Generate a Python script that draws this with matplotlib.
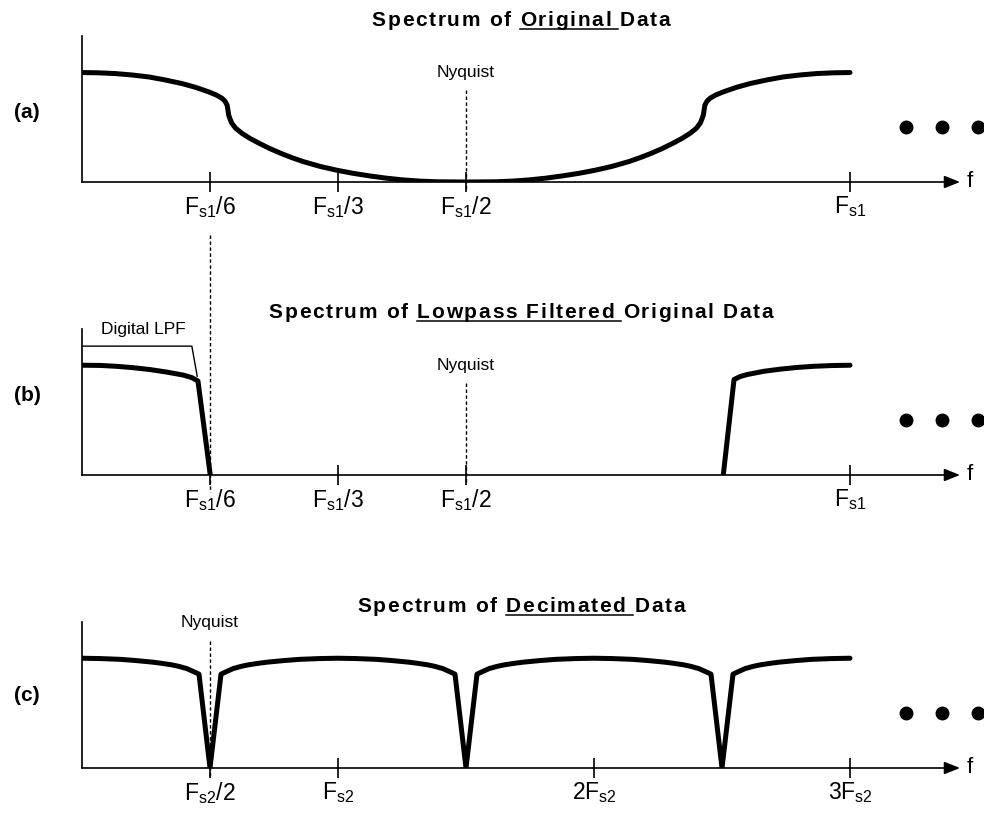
import numpy as np
import matplotlib
matplotlib.use('Agg')
import matplotlib.pyplot as plt
from matplotlib import rc
from matplotlib.lines import Line2D

rc('font', **{'family': ['Liberation Sans', 'DejaVu Sans'], 'size': 12})
rc('mathtext', **{'default': 'regular'})

W, H = 984, 813

# (a) spectrum of original data, f in units of Fs1
a_f = [0.0, 0.020, 0.043, 0.065, 0.087, 0.108, 0.130, 0.148, 0.165, 0.175, 0.182, 0.186,
       0.189, 0.190, 0.191, 0.193, 0.195, 0.200, 0.208, 0.218, 0.230, 0.245, 0.260, 0.274,
       0.288, 0.310, 0.332, 0.353, 0.375, 0.396, 0.418, 0.440, 0.462, 0.500,
       0.538, 0.560, 0.582, 0.604, 0.625, 0.647, 0.668, 0.690, 0.712, 0.726, 0.740, 0.755,
       0.770, 0.782, 0.792, 0.800, 0.805, 0.807, 0.809, 0.810, 0.811, 0.814, 0.818, 0.825,
       0.835, 0.852, 0.870, 0.892, 0.913, 0.935, 0.957, 0.980, 1.0]
a_amp = [0.997, 0.995, 0.988, 0.975, 0.957, 0.930, 0.897, 0.862, 0.821, 0.792, 0.764, 0.738,
         0.700, 0.655, 0.609, 0.570, 0.536, 0.490, 0.445, 0.400, 0.355, 0.303, 0.258, 0.220,
         0.186, 0.142, 0.107, 0.079, 0.055, 0.035, 0.019, 0.008, 0.002, 0.0,
         0.002, 0.008, 0.019, 0.035, 0.055, 0.079, 0.107, 0.142, 0.186, 0.220, 0.258, 0.303,
         0.355, 0.400, 0.445, 0.490, 0.536, 0.570, 0.609, 0.655, 0.700, 0.738, 0.764, 0.792,
         0.821, 0.862, 0.897, 0.930, 0.957, 0.975, 0.988, 0.995, 0.997]

# (b) lowpass filtered original data, f in units of Fs1
b_left_f = [0.0, 0.024, 0.045, 0.066, 0.089, 0.110, 0.132, 0.143, 0.151, 0.167]
b_left_amp = [1.0, 0.998, 0.99, 0.978, 0.96, 0.938, 0.91, 0.887, 0.856, 0.0]
b_right_f = [0.835, 0.849, 0.857, 0.866, 0.888, 0.909, 0.930, 0.952, 0.976, 1.0]
b_right_amp = [0.0, 0.87, 0.897, 0.915, 0.945, 0.964, 0.979, 0.99, 0.997, 1.0]
lpf_f = [0.0, 0.143, 0.150]
lpf_amp = [1.174, 1.174, 0.90]

# (c) decimated data, f in units of Fs2
c_f = [0.0, 0.07, 0.148, 0.21, 0.277, 0.31, 0.35, 0.38, 0.41, 0.434, 0.445, 0.457, 0.5,
       0.543, 0.555, 0.566, 0.59, 0.62, 0.65, 0.69, 0.723, 0.79, 0.852, 0.93, 1.0,
       1.07, 1.148, 1.21, 1.277, 1.31, 1.35, 1.38, 1.41, 1.434, 1.445, 1.457, 1.5,
       1.543, 1.555, 1.566, 1.59, 1.62, 1.65, 1.69, 1.723, 1.79, 1.852, 1.93, 2.0,
       2.07, 2.148, 2.21, 2.277, 2.31, 2.35, 2.38, 2.41, 2.434, 2.445, 2.457, 2.5,
       2.543, 2.555, 2.566, 2.59, 2.62, 2.65, 2.69, 2.723, 2.79, 2.852, 2.93, 3.0]
c_amp = [1.0, 0.997, 0.99, 0.979, 0.964, 0.954, 0.94, 0.925, 0.905, 0.88, 0.868, 0.855, 0.0,
         0.855, 0.868, 0.88, 0.905, 0.925, 0.94, 0.954, 0.964, 0.979, 0.99, 0.997, 1.0,
         0.997, 0.99, 0.979, 0.964, 0.954, 0.94, 0.925, 0.905, 0.88, 0.868, 0.855, 0.0,
         0.855, 0.868, 0.88, 0.905, 0.925, 0.94, 0.954, 0.964, 0.979, 0.99, 0.997, 1.0,
         0.997, 0.99, 0.979, 0.964, 0.954, 0.94, 0.925, 0.905, 0.88, 0.868, 0.855, 0.0,
         0.855, 0.868, 0.88, 0.905, 0.925, 0.94, 0.954, 0.964, 0.979, 0.99, 0.997, 1.0]

ticks_ab = [1/6, 1/3, 1/2, 1.0]
labels_ab = [r'$F_{s1}/6$', r'$F_{s1}/3$', r'$F_{s1}/2$', r'$F_{s1}$']
ticks_c = [0.5, 1.0, 2.0, 3.0]
labels_c = [r'$F_{s2}/2$', r'$F_{s2}$', r'$2F_{s2}$', r'$3F_{s2}$']

dots_ab = [1.073, 1.120, 1.167]
dots_c = [3.219, 3.359, 3.5]

titles = [
    [('Spectrum of ', False), ('Original ', True), ('Data', False)],
    [('Spectrum of ', False), ('Lowpass Filtered ', True), ('Original Data', False)],
    [('Spectrum of ', False), ('Decimated ', True), ('Data', False)],
]
title_base = [26, 318, 612]
panel_names = ['(a)', '(b)', '(c)']
panel_y = [112, 395, 695]
baselines = [182, 475, 768]

fig = plt.figure(figsize=(W/100, H/100), dpi=100)

YMAX = 1.33
CURVE = dict(color='k', lw=3.6, solid_joinstyle='round', solid_capstyle='round')
DASH = dict(color='k', lw=1.0, ls=(0, (2.5, 1.8)), clip_on=False)


def panel(base_px, xmax, ticks, labels):
    ax = fig.add_axes([82/W, (H - base_px)/H, 878/W, 146/H])
    ax.set_xlim(0, xmax)
    ax.set_ylim(0, YMAX)
    ax.patch.set_visible(False)
    for s in ['top', 'right', 'bottom']:
        ax.spines[s].set_visible(False)
    ax.spines['left'].set_linewidth(1.2)
    ax.set_yticks([])
    ax.set_xticks(ticks)
    ax.set_xticklabels(labels)
    ax.tick_params(axis='x', direction='inout', length=14, width=1.2, labelsize=16.5, pad=2)
    ax.annotate('', xy=(1.0, 0), xytext=(0, 0), xycoords='axes fraction',
                arrowprops=dict(arrowstyle='-|>,head_length=0.95,head_width=0.38',
                                mutation_scale=10, lw=1.2, color='k',
                                shrinkA=0, shrinkB=0))
    ax.text(1.008, 0.005, 'f', transform=ax.transAxes, ha='left', va='center', fontsize=16)
    return ax


xmax_ab = 878/768
ax_a = panel(baselines[0], xmax_ab, ticks_ab, labels_ab)
ax_b = panel(baselines[1], xmax_ab, ticks_ab, labels_ab)
ax_c = panel(baselines[2], 3*xmax_ab, ticks_c, labels_c)

# (a)
ax_a.plot(a_f, a_amp, **CURVE)
ax_a.plot([0.5, 0.5], [0.84, -0.07], **DASH)
ax_a.text(0.5, 1.0, 'Nyquist', ha='center', va='center', fontsize=12.5)
ax_a.plot(dots_ab, [0.5]*3, 'o', color='k', ms=9, clip_on=False)

# (b)
ax_b.plot(b_left_f, b_left_amp, **CURVE)
ax_b.plot(b_right_f, b_right_amp, **CURVE)
ax_b.plot(lpf_f, lpf_amp, color='k', lw=1.0)
ax_b.text(0.080, 1.33, 'Digital LPF', ha='center', va='center', fontsize=12.5)
ax_b.plot([1/6, 1/6], [2.19, -0.155], **DASH)
ax_b.plot([0.5, 0.5], [0.84, -0.06], **DASH)
ax_b.text(0.5, 1.0, 'Nyquist', ha='center', va='center', fontsize=12.5)
ax_b.plot(dots_ab, [0.5]*3, 'o', color='k', ms=9, clip_on=False)

# (c)
ax_c.plot(c_f, c_amp, **CURVE)
ax_c.plot([0.5, 0.5], [1.16, -0.09], **DASH)
ax_c.text(0.5, 1.33, 'Nyquist', ha='center', va='center', fontsize=12.5)
ax_c.plot(dots_c, [0.5]*3, 'o', color='k', ms=9, clip_on=False)

for name, y in zip(panel_names, panel_y):
    fig.text(27/W, 1 - y/H, name, ha='center', va='center', fontsize=15, fontweight='bold')

# titles with letter spacing and an underlined middle part
renderer = fig.canvas.get_renderer()


def text_width(s, **kw):
    t = fig.text(0, 0, '|' + s + '|', **kw)
    w1 = t.get_window_extent(renderer).width
    t.set_text('||')
    w0 = t.get_window_extent(renderer).width
    t.remove()
    return w1 - w0


def tracked_title(parts, xc, base_px, size=15, track=1.7):
    kw = dict(fontsize=size, fontweight='bold')
    chars = [(c, ul) for s, ul in parts for c in s]
    widths = [text_width(c, **kw) for c, _ in chars]
    total = sum(widths) + track*(len(chars) - 1)
    x = xc - total/2
    y = H - base_px
    ul0 = ul1 = None
    for (c, ul), w in zip(chars, widths):
        if c != ' ':
            fig.text(x/W, y/H, c, ha='left', va='baseline', **kw)
        if ul:
            if ul0 is None:
                ul0 = x
            ul1 = x + w
        x += w + track
    fig.add_artist(Line2D([ul0/W, ul1/W], [(y - 3)/H]*2, transform=fig.transFigure,
                          color='k', lw=1.1))


for parts, base in zip(titles, title_base):
    tracked_title(parts, 521, base)

fig.savefig('out.png', dpi=100)
